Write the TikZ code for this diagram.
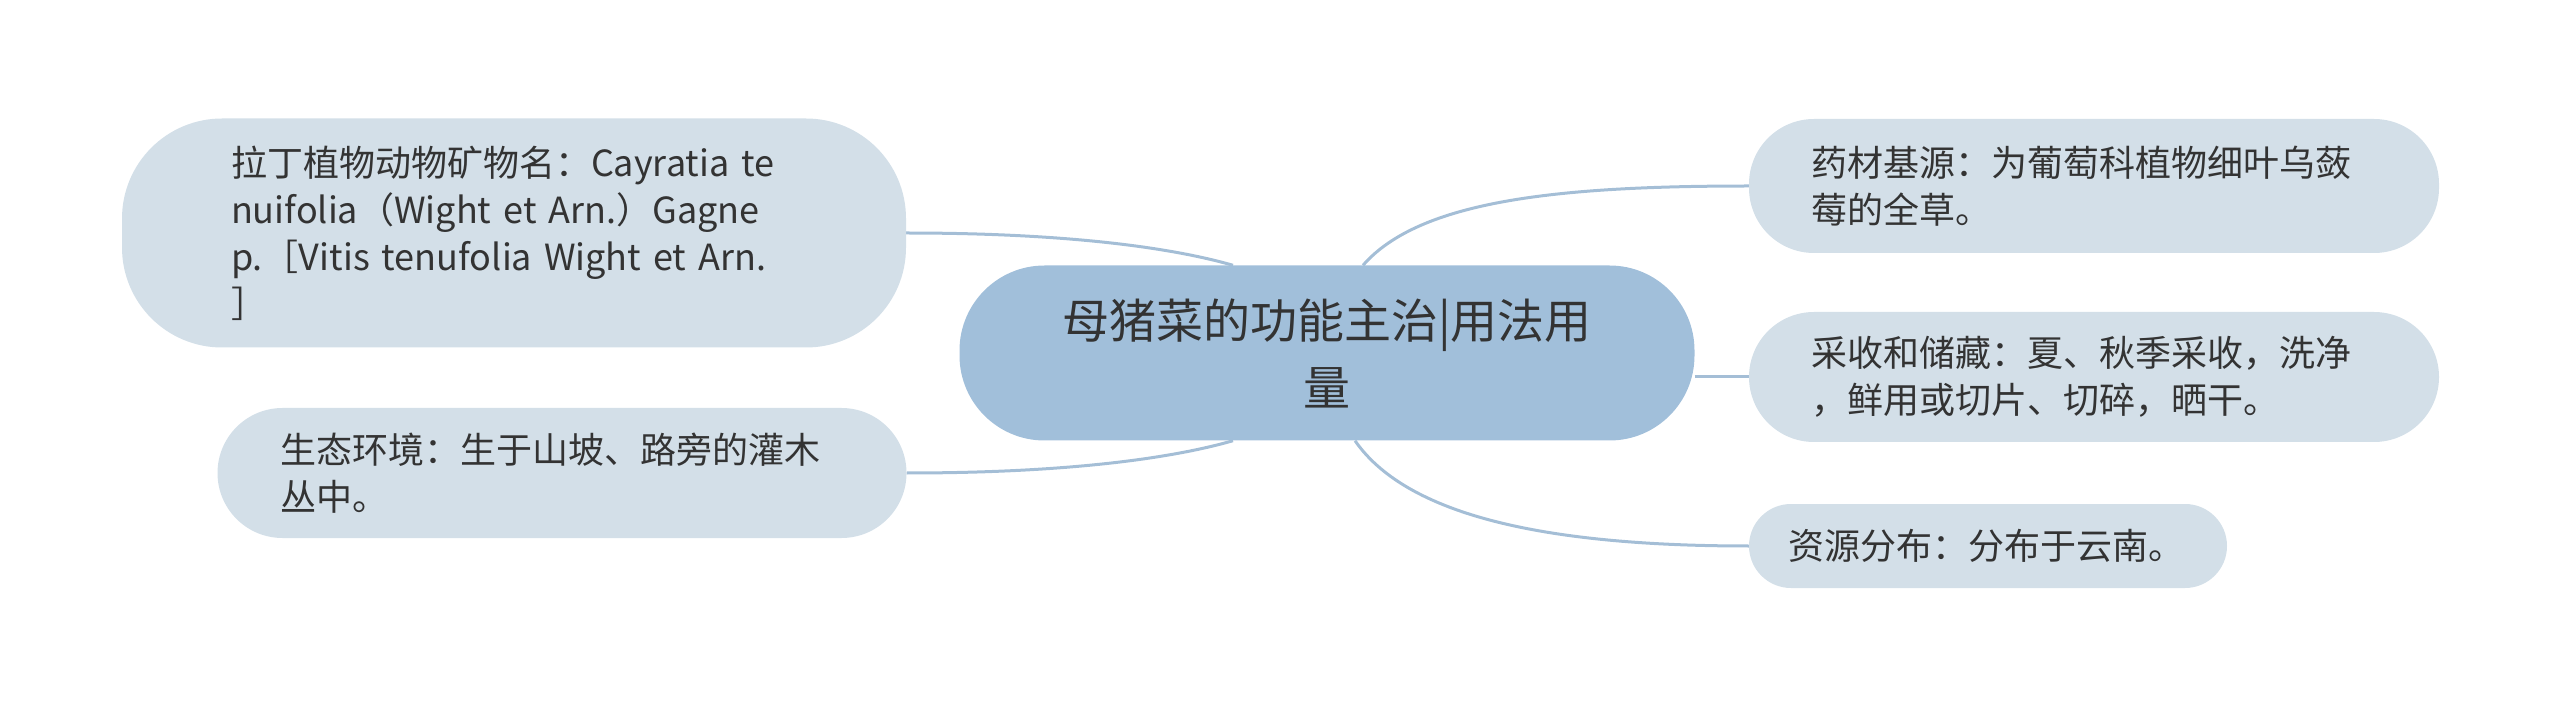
\documentclass[tikz,border=0pt]{standalone}
\usepackage{fontspec}
\setmainfont{Noto Sans CJK SC}
\usetikzlibrary{positioning,backgrounds}
\definecolor{topicfill}{HTML}{A1BFDA}
\definecolor{leaffill}{HTML}{D3DFE8}
\definecolor{linkcol}{HTML}{A4BED6}
\definecolor{textcol}{HTML}{333333}
\tikzset{%
	topic/.style = {rectangle, fill=topicfill, rounded corners=85pt, minimum width=735pt, minimum height=175pt, text width=580pt, align=center, inner sep=0pt, text=textcol, font=\fontsize{47}{67}\selectfont}, % central topic
	leaf/.style  = {rectangle, fill=leaffill, rounded corners=65pt, minimum height=130pt, inner sep=0pt, align=left, text=textcol, font=\fontsize{36}{47}\selectfont}, % branch topic
	link/.style  = {draw=linkcol, line width=3pt},
}

\begin{document}
\begin{tikzpicture}[x=1pt,y=-1pt]
	\useasboundingbox (0,0) rectangle (2560,708);
	\node [topic] (main) at (1327,353) {母猪菜的功能主治|用法用\\量};
	\node [leaf, minimum width=784pt, minimum height=229pt, text width=566pt, rounded corners=100pt] (latin) at (514,233) {拉丁植物动物矿物名：Cayratia te\\nuifolia（Wight et Arn.）Gagne\\p.［Vitis tenufolia Wight et Arn.\\］};
	\node [leaf, minimum width=689pt, text width=563pt] (habitat) at (562,473) {生态环境：生于山坡、路旁的灌木\\丛中。};
	\node [leaf, minimum width=690pt, minimum height=134pt, text width=566pt] (origin) at (2094,186) {药材基源：为葡萄科植物细叶乌蔹\\莓的全草。};
	\node [leaf, minimum width=690pt, text width=566pt] (harvest) at (2094,377) {采收和储藏：夏、秋季采收，洗净\\，鲜用或切片、切碎，晒干。};
	\node [leaf, minimum width=478pt, minimum height=84pt, text width=400pt, rounded corners=42pt] (range) at (1988,546) {资源分布：分布于云南。};
	
	\begin{scope}[on background layer]
		\draw[link] (latin.east) .. controls (1080,233) and (1180,250) .. ([xshift=-94pt]main.north);
		\draw[link] (habitat.east) .. controls (1080,473) and (1180,456) .. ([xshift=-94pt]main.south);
		\draw[link] ([xshift=36pt]main.north) .. controls (1420,200) and (1560,186) .. (origin.west);
		\draw[link] (main.east |- harvest.west) -- (harvest.west);
		\draw[link] ([xshift=28pt]main.south) .. controls (1410,520) and (1560,546) .. (range.west);
	\end{scope}
\end{tikzpicture}
\end{document}
